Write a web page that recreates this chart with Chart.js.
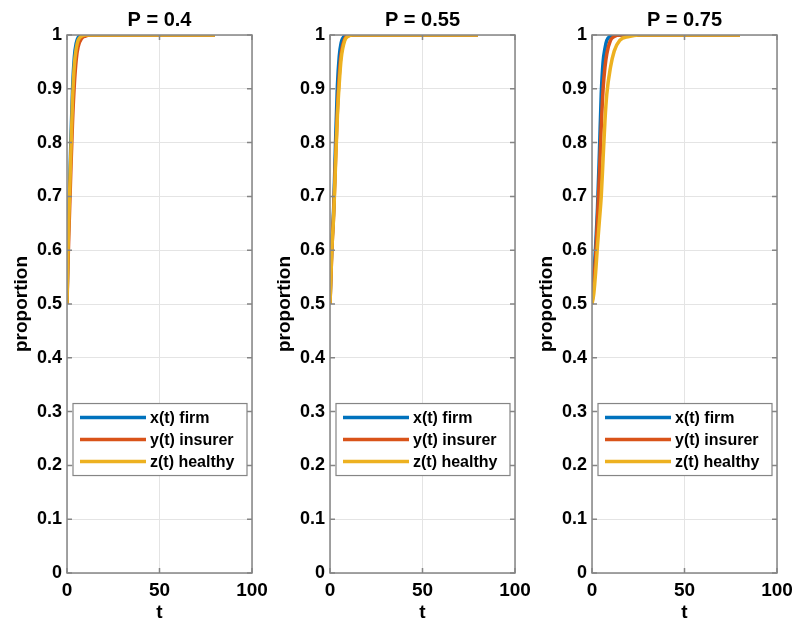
<!DOCTYPE html>
<html>
<head>
<meta charset="utf-8">
<script src="https://cdn.jsdelivr.net/npm/chart.js@4.4.1/dist/chart.umd.min.js"></script>
<style>
  body { margin: 0; background: #fff; }
  #wrap { position: relative; width: 795px; height: 624px; overflow: hidden; }
  canvas { position: absolute; top: 0; }
</style>
</head>
<body>
<div id="wrap">
  <canvas id="c1" width="280" height="624" style="left:0px"></canvas>
  <canvas id="c2" width="280" height="624" style="left:263px"></canvas>
  <canvas id="c3" width="280" height="624" style="left:525px"></canvas>
</div>
<script>
const titles = ['P = 0.4', 'P = 0.55', 'P = 0.75'];
const seriesNames = ['x(t) firm', 'y(t) insurer', 'z(t) healthy'];
const seriesColors = ['#0072BD', '#D95319', '#EDB120'];

// P = 0.4
const t1 = [0, 0.5, 1, 2, 3, 4, 5, 6, 8, 10, 12, 15, 20, 40, 80];
const x1 = [0.5, 0.6, 0.67, 0.79, 0.9, 0.96, 0.985, 0.995, 0.999, 1, 1, 1, 1, 1, 1];
const y1 = [0.5, 0.57, 0.63, 0.74, 0.84, 0.91, 0.955, 0.978, 0.994, 0.998, 1, 1, 1, 1, 1];
const z1 = [0.5, 0.59, 0.66, 0.77, 0.88, 0.945, 0.975, 0.99, 0.998, 1, 1, 1, 1, 1, 1];

// P = 0.55
const t2 = [0, 0.5, 1, 2, 3, 4, 5, 6, 8, 10, 12, 15, 20, 40, 80];
const x2 = [0.5, 0.56, 0.61, 0.68, 0.8, 0.905, 0.96, 0.985, 0.998, 1, 1, 1, 1, 1, 1];
const y2 = [0.5, 0.55, 0.6, 0.67, 0.77, 0.86, 0.925, 0.965, 0.993, 0.999, 1, 1, 1, 1, 1];
const z2 = [0.5, 0.55, 0.6, 0.665, 0.76, 0.85, 0.91, 0.955, 0.99, 0.998, 1, 1, 1, 1, 1];

// P = 0.75
const t3 = [0, 1, 2, 3, 4, 5, 6, 7, 8, 10, 12, 15, 20, 25, 30, 40, 80];
const x3 = [0.5, 0.55, 0.61, 0.68, 0.78, 0.89, 0.95, 0.975, 0.99, 0.998, 1, 1, 1, 1, 1, 1, 1];
const y3 = [0.5, 0.54, 0.59, 0.66, 0.74, 0.83, 0.9, 0.94, 0.965, 0.99, 0.997, 1, 1, 1, 1, 1, 1];
const z3 = [0.5, 0.52, 0.56, 0.61, 0.655, 0.7, 0.77, 0.84, 0.89, 0.94, 0.97, 0.99, 0.997, 1, 1, 1, 1];

const xTicks = [0, 50, 100];
const yTicks = [0, 0.1, 0.2, 0.3, 0.4, 0.5, 0.6, 0.7, 0.8, 0.9, 1];

const panels = [
  { t: t1, ys: [x1, y1, z1] },
  { t: t2, ys: [x2, y2, z2] },
  { t: t3, ys: [x3, y3, z3] }
];

const FONT = '"Liberation Sans", Arial, Helvetica, sans-serif';
const axisColor = '#858585';

// matlab-ish box, inward ticks, title and legend
const matlabAxes = {
  id: 'matlabAxes',
  afterDraw(chart, args, opts) {
    const ctx = chart.ctx;
    const a = chart.chartArea;
    const xs = chart.scales.x, ys = chart.scales.y;
    ctx.save();
    ctx.strokeStyle = axisColor;
    ctx.lineWidth = 1.5;
    ctx.beginPath();
    xTicks.forEach(v => {
      const px = xs.getPixelForValue(v);
      ctx.moveTo(px, a.bottom); ctx.lineTo(px, a.bottom - 5);
      ctx.moveTo(px, a.top); ctx.lineTo(px, a.top + 5);
    });
    yTicks.forEach(v => {
      const py = ys.getPixelForValue(v);
      ctx.moveTo(a.left, py); ctx.lineTo(a.left + 5, py);
      ctx.moveTo(a.right, py); ctx.lineTo(a.right - 5, py);
    });
    ctx.stroke();
    ctx.strokeRect(a.left, a.top, a.right - a.left, a.bottom - a.top);

    // title
    ctx.fillStyle = '#000';
    ctx.font = 'bold 20px ' + FONT;
    ctx.textAlign = 'center';
    ctx.textBaseline = 'middle';
    ctx.fillText(opts.title, (a.left + a.right) / 2, 20);

    // legend
    const lx = a.left + 6, lw = a.right - a.left - 11;
    const ly = ys.getPixelForValue(0.315), lh = 72;
    ctx.fillStyle = '#fff';
    ctx.fillRect(lx, ly, lw, lh);
    ctx.lineWidth = 1.2;
    ctx.strokeStyle = axisColor;
    ctx.strokeRect(lx, ly, lw, lh);
    ctx.font = 'bold 16px ' + FONT;
    ctx.textAlign = 'left';
    seriesNames.forEach((name, i) => {
      const ry = ly + 14 + i * 22;
      ctx.strokeStyle = seriesColors[i];
      ctx.lineWidth = 3.5;
      ctx.beginPath();
      ctx.moveTo(lx + 7, ry); ctx.lineTo(lx + 73, ry);
      ctx.stroke();
      ctx.fillStyle = '#000';
      ctx.fillText(name, lx + 77, ry + 1);
    });
    ctx.restore();
  }
};

panels.forEach((p, k) => {
  const ctx = document.getElementById('c' + (k + 1));
  new Chart(ctx, {
    type: 'line',
    data: {
      datasets: p.ys.map((vals, i) => ({
        label: seriesNames[i],
        data: p.t.map((tv, j) => ({ x: tv, y: vals[j] })),
        borderColor: seriesColors[i],
        borderWidth: 3.5,
        pointRadius: 0,
        fill: false,
        cubicInterpolationMode: 'monotone',
        order: 3 - i
      }))
    },
    options: {
      responsive: false,
      animation: false,
      layout: { padding: { top: 35, right: 28, left: 0, bottom: 0 } },
      plugins: {
        legend: { display: false },
        tooltip: { enabled: false },
        matlabAxes: { title: titles[k] }
      },
      scales: {
        x: {
          type: 'linear',
          min: 0,
          max: 100,
          afterBuildTicks: s => { s.ticks = xTicks.map(v => ({ value: v })); },
          afterFit: s => { s.height = 51; },
          grid: { color: '#e4e4e4', drawTicks: false },
          border: { display: false },
          ticks: { color: '#000', padding: 6, maxRotation: 0, font: { family: FONT, size: 19, weight: 'bold' } },
          title: { display: true, text: 't', color: '#000', padding: 0, font: { family: FONT, size: 19, weight: 'bold' } }
        },
        y: {
          min: 0,
          max: 1,
          afterBuildTicks: s => { s.ticks = yTicks.map(v => ({ value: v })); },
          afterFit: s => { s.width = 67; },
          grid: { color: '#e4e4e4', drawTicks: false },
          border: { display: false },
          ticks: { color: '#000', padding: 5, callback: v => String(+v.toFixed(1)), font: { family: FONT, size: 18, weight: 'bold' } },
          title: { display: true, text: 'proportion', color: '#000', padding: { top: 10, bottom: 0 }, font: { family: FONT, size: 19, weight: 'bold' } }
        }
      }
    },
    plugins: [matlabAxes]
  });
});
</script>
</body>
</html>
